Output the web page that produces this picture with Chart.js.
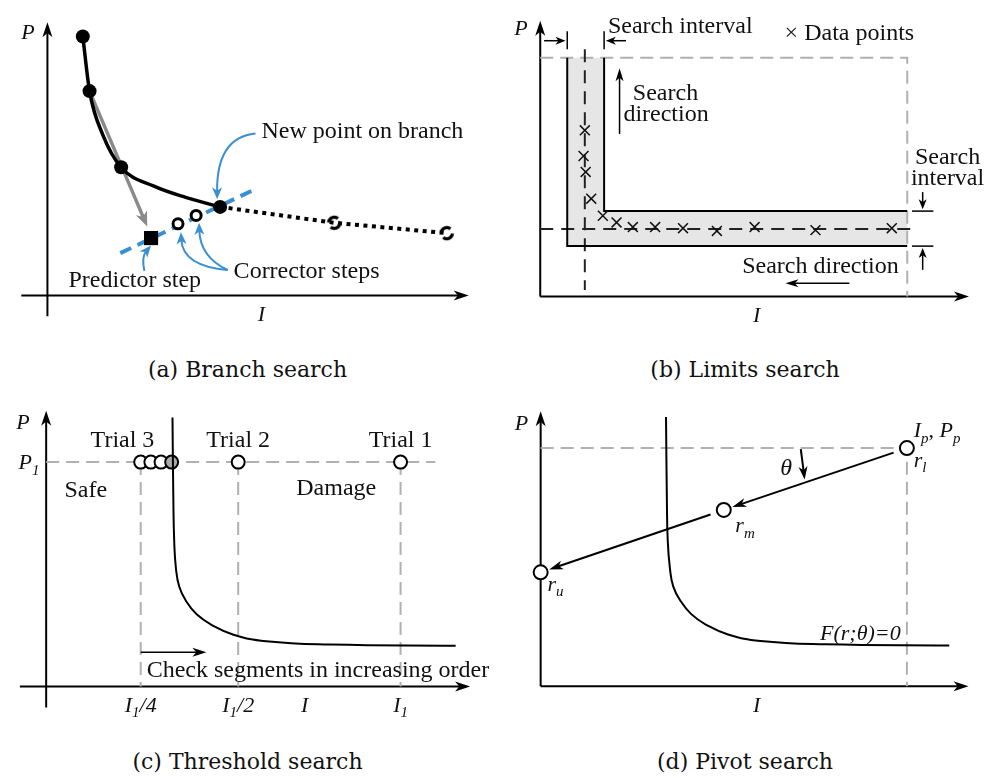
<!DOCTYPE html>
<html>
<head>
<meta charset="utf-8">
<script src="https://cdn.jsdelivr.net/npm/chart.js@4.4.1/dist/chart.umd.min.js"></script>
<style>
  body { margin: 0; background: #fff; width: 991px; height: 778px; position: relative; overflow: hidden; }
  canvas { position: absolute; }
  .cap { position: absolute; font: 22px "DejaVu Serif", serif; line-height: 26px; color: #111; text-align: center; }
</style>
</head>
<body>
<canvas id="panelA"></canvas>
<canvas id="panelB"></canvas>
<canvas id="panelC"></canvas>
<canvas id="panelD"></canvas>
<div class="cap" style="left:0;top:357px;width:495px">(a) Branch search</div>
<div class="cap" style="left:497px;top:357px;width:496px">(b) Limits search</div>
<div class="cap" style="left:0;top:749px;width:495px">(c) Threshold search</div>
<div class="cap" style="left:497px;top:749px;width:496px">(d) Pivot search</div>
<script>
// ---------- (a) Branch search ----------
const branchI    = [0.84, 1.00, 1.32, 1.75, 2.53, 3.28, 4.10];
const branchP    = [9.48, 7.48, 5.86, 4.69, 4.00, 3.59, 3.24];
const solvedI    = [0.84, 1.00, 1.75, 4.10];
const solvedP    = [9.48, 7.48, 4.69, 3.24];
const aheadI     = [4.10, 6.81, 9.48];
const aheadP     = [3.24, 2.66, 2.28];
const unsolvedI  = [6.81, 9.48];
const unsolvedP  = [2.66, 2.28];
const tangentI   = [1.73, 4.99];
const tangentP   = [1.55, 3.93];
const predictorI = [2.46];
const predictorP = [2.10];
const correctorI = [3.10, 3.53];
const correctorP = [2.62, 2.93];

// ---------- (b) Limits search ----------
const samplesI = [1.04, 1.01, 1.06, 1.19, 1.46, 1.78, 2.16, 2.68, 3.33, 4.12, 5.00, 6.42, 8.20];
const samplesP = [6.03, 5.10, 4.52, 3.55, 2.93, 2.69, 2.52, 2.52, 2.48, 2.38, 2.52, 2.41, 2.48];
const limitI   = [1.04];           // limiting impulse
const limitP   = [2.45];           // limiting pressure
const domainI  = [8.56];           // right edge of search domain
const domainP  = [8.66];           // top edge of search domain
const bandI    = [0.63, 1.49];     // vertical search interval
const bandP    = [1.83, 3.10];     // horizontal search interval

// ---------- (c) Threshold search ----------
const thresholdI = [2.98, 3.00, 3.02, 3.06, 3.14, 3.30, 3.55, 3.90, 4.42, 5.19, 6.70, 9.66];
const thresholdP = [9.76, 6.80, 5.30, 4.30, 3.62, 3.10, 2.62, 2.24, 1.88, 1.64, 1.52, 1.48];
const trialP     = [8.14];
const trialI     = [8.36, 4.53, 2.23];   // I1, I1/2, I1/4
const refineI    = [2.23, 2.47, 2.71];
const hitI       = [2.96];
const trialTicks = ['I1', 'I1/2', 'I1/4'];

// ---------- (d) Pivot search ----------
const pivotCurveI = [2.93, 2.95, 2.97, 3.02, 3.10, 3.27, 3.52, 3.86, 4.38, 5.14, 6.64, 9.55];
const pivotCurveP = [9.79, 6.80, 5.30, 4.30, 3.62, 3.10, 2.62, 2.24, 1.88, 1.64, 1.52, 1.48];
const pivotI      = [8.56, 4.28, 0.00];  // r_l, r_m, r_u
const pivotP      = [8.66, 6.41, 4.14];

// ---------- drawing helpers ----------
const FAM  = '"Liberation Serif", "Times New Roman", serif';
const INK  = '#111';
const BLUE = '#3a8fd3';
const GRAY = '#b0b0b0';

const pts = (xs, ys) => xs.map((x, i) => ({ x, y: ys[i] }));

function head(ctx, x, y, ang, len, half, color) {
  ctx.save();
  ctx.translate(x, y);
  ctx.rotate(ang);
  ctx.beginPath();
  ctx.moveTo(0, 0);
  ctx.lineTo(-len, -half);
  ctx.lineTo(-len * 0.72, 0);
  ctx.lineTo(-len, half);
  ctx.closePath();
  ctx.fillStyle = color;
  ctx.fill();
  ctx.restore();
}

function straightArrow(ctx, a, b, color, width, len, half) {
  const ang = Math.atan2(b[1] - a[1], b[0] - a[0]);
  const ex = b[0] - Math.cos(ang) * len * 0.6, ey = b[1] - Math.sin(ang) * len * 0.6;
  ctx.save();
  ctx.strokeStyle = color; ctx.lineWidth = width; ctx.lineCap = 'butt';
  ctx.beginPath(); ctx.moveTo(a[0], a[1]); ctx.lineTo(ex, ey); ctx.stroke();
  ctx.restore();
  if (len) head(ctx, b[0], b[1], ang, len, half, color);
}

function richText(ctx, x, y, parts, align, size, color) {
  const font = fl => (fl.includes('i') ? 'italic ' : '') +
    (fl.includes('s') ? Math.round(size * 0.68) : size) + 'px ' + FAM;
  let w = 0;
  parts.forEach(p => { ctx.font = font(p[1]); w += ctx.measureText(p[0]).width; });
  let cx = align === 'center' ? x - w / 2 : align === 'right' ? x - w : x;
  const base = y + size * 0.33;
  ctx.save();
  ctx.fillStyle = color || INK;
  ctx.textAlign = 'left';
  ctx.textBaseline = 'alphabetic';
  parts.forEach(p => {
    ctx.font = font(p[1]);
    ctx.fillText(p[0], cx, base + (p[1].includes('s') ? size * 0.24 : 0));
    cx += ctx.measureText(p[0]).width;
  });
  ctx.restore();
}

const R  = s => [s, ''];     // upright
const It = s => [s, 'i'];    // italic
const Sb = s => [s, 'is'];   // italic subscript

// overlay: axes, guide ticks, annotation arrows and labels, all placed through the chart scales
function overlay(spec) {
  const toPx = (ch, p) => [ch.scales.x.getPixelForValue(p[0]), ch.scales.y.getPixelForValue(p[1])];
  return {
    id: 'overlay',
    beforeDatasetsDraw(ch) {
      const ctx = ch.ctx;
      const ax = spec.axes;
      straightArrow(ctx, toPx(ch, [ax.x[0], 0]), toPx(ch, [ax.x[1], 0]), '#000', 2, 15, 5);
      straightArrow(ctx, toPx(ch, [0, ax.y[0]]), toPx(ch, [0, ax.y[1]]), '#000', 2, 15, 5);
      (spec.under || []).forEach(a =>
        straightArrow(ctx, toPx(ch, a.from), toPx(ch, a.to), a.color, a.width, a.head[0], a.head[1]));
    },
    afterDatasetsDraw(ch) {
      const ctx = ch.ctx;
      (spec.segs || []).forEach(s => {
        ctx.save();
        ctx.strokeStyle = s.color || '#000'; ctx.lineWidth = s.width || 1.5;
        ctx.beginPath();
        s.pts.forEach((p, i) => { const q = toPx(ch, p); i ? ctx.lineTo(q[0], q[1]) : ctx.moveTo(q[0], q[1]); });
        ctx.stroke();
        ctx.restore();
      });
      (spec.arrows || []).forEach(a => {
        let p = toPx(ch, a.from), q = toPx(ch, a.to);
        if (a.trim) {
          const d = Math.hypot(q[0] - p[0], q[1] - p[1]);
          const ux = (q[0] - p[0]) / d, uy = (q[1] - p[1]) / d;
          p = [p[0] + ux * a.trim[0], p[1] + uy * a.trim[0]];
          q = [q[0] - ux * a.trim[1], q[1] - uy * a.trim[1]];
        }
        straightArrow(ctx, p, q, a.color || '#000', a.width || 1.5, a.head[0], a.head[1]);
      });
      (spec.curves || []).forEach(c => {
        const p = toPx(ch, c.from), k = toPx(ch, c.ctrl), q = toPx(ch, c.to);
        const ang = Math.atan2(q[1] - k[1], q[0] - k[0]);
        const len = c.head[0];
        ctx.save();
        ctx.strokeStyle = c.color; ctx.lineWidth = c.width;
        ctx.beginPath();
        ctx.moveTo(p[0], p[1]);
        ctx.quadraticCurveTo(k[0], k[1], q[0] - Math.cos(ang) * len * 0.6, q[1] - Math.sin(ang) * len * 0.6);
        ctx.stroke();
        ctx.restore();
        head(ctx, q[0], q[1], ang, len, c.head[1], c.color);
      });
      (spec.texts || []).forEach(t => {
        const q = toPx(ch, t.at);
        richText(ctx, q[0], q[1], t.parts, t.align || 'left', t.size || 24, t.color);
      });
    }
  };
}

function makeChart(id, box, frame, datasets, spec) {
  const [L, T, W, H] = box;
  const { ox, oy, ux, uy } = frame;
  const el = document.getElementById(id);
  el.style.left = L + 'px'; el.style.top = T + 'px';
  el.width = W; el.height = H;
  const n = datasets.length;
  return new Chart(el, {
    type: 'scatter',
    data: { datasets: datasets.map((d, i) => Object.assign({ order: n - i, pointRadius: 0, borderWidth: 2 }, d)) },
    options: {
      responsive: false, animation: false, events: [],
      layout: { padding: 0 },
      plugins: { legend: { display: false }, tooltip: { enabled: false } },
      scales: {
        x: { type: 'linear', display: false, min: (L - ox) / ux, max: (L + W - ox) / ux },
        y: { type: 'linear', display: false, min: (oy - T - H) / uy, max: (oy - T) / uy }
      }
    },
    plugins: [overlay(spec)]
  });
}

// broken ring marker for branch points not yet traced
function brokenRing() {
  const c = document.createElement('canvas');
  c.width = c.height = 20;
  const g = c.getContext('2d');
  g.strokeStyle = '#000'; g.lineWidth = 3.4;
  g.beginPath(); g.arc(10, 10, 5.6, Math.PI * 1.02, Math.PI * 1.72); g.stroke();
  g.beginPath(); g.arc(10, 10, 5.6, Math.PI * 0.02, Math.PI * 0.72); g.stroke();
  return c;
}

const line = (data, extra) => Object.assign({ data, showLine: true, fill: false, borderColor: '#000' }, extra);
const marks = (data, extra) => Object.assign({ data, showLine: false }, extra);

// ---------- (a) ----------
makeChart('panelA', [0, 0, 495, 345], { ox: 39, oy: 303, ux: 43.9, uy: 29 }, [
  line(pts(tangentI, tangentP), { borderColor: BLUE, borderWidth: 4, borderDash: [12, 7] }),
  line(pts(aheadI, aheadP), { borderWidth: 4, borderDash: [4, 4.5] }),
  line(pts(branchI, branchP), { borderWidth: 3.5, cubicInterpolationMode: 'monotone' }),
  marks(pts(unsolvedI, unsolvedP), { pointStyle: brokenRing(), pointRadius: 8 }),
  marks(pts(solvedI, solvedP), { pointRadius: 7, pointBackgroundColor: '#000', pointBorderWidth: 0 }),
  marks(pts(predictorI, predictorP), { pointStyle: 'rect', pointRadius: 10, pointBackgroundColor: '#000', pointBorderWidth: 0 }),
  marks(pts(correctorI, correctorP), { pointRadius: 5, pointBackgroundColor: '#fff', pointBorderColor: '#000', pointBorderWidth: 3 })
], {
  axes: { x: [-0.62, 10], y: [-0.76, 10] },
  under: [{ from: [solvedI[1], solvedP[1]], to: [2.37, 2.52], color: '#8a8a8a', width: 3.5, head: [15, 6] }],
  curves: [
    { from: [4.94, 5.93], ctrl: [4.01, 5.79], to: [4.03, 3.52], color: BLUE, width: 2, head: [12, 5] },
    { from: [4.28, 0.93], ctrl: [3.21, 1.07], to: [3.17, 2.31], color: BLUE, width: 2, head: [12, 5] },
    { from: [4.28, 0.93], ctrl: [3.62, 1.41], to: [3.60, 2.66], color: BLUE, width: 2, head: [12, 5] },
    { from: [2.30, 0.90], ctrl: [2.23, 1.41], to: [2.46, 1.83], color: BLUE, width: 2, head: [12, 5] }
  ],
  texts: [
    { at: [5.08, 6.07], parts: [R('New point on branch')] },
    { at: [4.42, 0.93], parts: [R('Corrector steps')] },
    { at: [0.50, 0.59], parts: [R('Predictor step')] },
    { at: [-0.46, 9.66], parts: [It('P')], align: 'center', size: 22 },
    { at: [5.08, -0.66], parts: [It('I')], align: 'center', size: 22 }
  ]
});

// ---------- (b) ----------
const bandShape = [
  [bandI[0], domainP[0]], [bandI[1], domainP[0]], [bandI[1], bandP[1]], [domainI[0], bandP[1]],
  [domainI[0], bandP[0]], [bandI[0], bandP[0]], [bandI[0], domainP[0]]
].map(p => ({ x: p[0], y: p[1] }));

makeChart('panelB', [496, 0, 495, 345], { ox: 533, oy: 303, ux: 44.4, uy: 29 }, [
  line(bandShape, { borderWidth: 0, fill: 'shape', backgroundColor: '#e6e6e6', borderColor: 'rgba(0,0,0,0)' }),
  line(pts([0, domainI[0], domainI[0]], [domainP[0], domainP[0], 0]), { borderColor: GRAY, borderDash: [13, 7] }),
  line(pts([limitI[0], limitI[0]], [8.97, 0.24]), { borderColor: '#222', borderDash: [13, 8] }),
  line(pts([0, 8.65], [limitP[0], limitP[0]]), { borderColor: '#222', borderDash: [13, 8] }),
  line(pts([bandI[0], bandI[0], domainI[0]], [domainP[0], bandP[0], bandP[0]]), {}),
  line(pts([bandI[1], bandI[1], domainI[0]], [domainP[0], bandP[1], bandP[1]]), {}),
  marks(pts(samplesI, samplesP), { pointStyle: 'crossRot', pointRadius: 7, pointBorderColor: '#111', pointBorderWidth: 1.5 })
], {
  axes: { x: [0, 10], y: [0, 10] },
  segs: [
    { pts: [[bandI[0], 8.97], [bandI[0], 9.62]] },
    { pts: [[bandI[1], 8.97], [bandI[1], 9.62]] },
    { pts: [[8.67, bandP[1]], [9.17, bandP[1]]] },
    { pts: [[8.67, bandP[0]], [9.17, bandP[0]]] }
  ],
  arrows: [
    { from: [0.09, 9.28], to: [bandI[0] - 0.04, 9.28], head: [10, 4] },
    { from: [2.00, 9.28], to: [bandI[1] + 0.04, 9.28], head: [10, 4] },
    { from: [1.85, 5.90], to: [1.85, 8.28], head: [13, 4] },
    { from: [8.92, 3.79], to: [8.92, bandP[1] + 0.07], head: [10, 4] },
    { from: [8.92, 0.97], to: [8.92, bandP[0] - 0.07], head: [10, 4] },
    { from: [7.21, 0.48], to: [5.72, 0.48], head: [13, 4] }
  ],
  texts: [
    { at: [1.58, 9.86], parts: [R('Search interval')] },
    { at: [5.70, 9.59], parts: [R('\u00d7 Data points')] },
    { at: [2.16, 7.41], parts: [R('Search')] },
    { at: [1.94, 6.66], parts: [R('direction')] },
    { at: [9.50, 5.10], parts: [R('Search')], align: 'center' },
    { at: [9.50, 4.34], parts: [R('interval')], align: 'center' },
    { at: [4.71, 1.14], parts: [R('Search direction')] },
    { at: [-0.45, 9.76], parts: [It('P')], align: 'center', size: 22 },
    { at: [5.05, -0.66], parts: [It('I')], align: 'center', size: 22 }
  ]
});

// ---------- (c) ----------
const tickParts = {
  'I1':   [It('I'), Sb('1')],
  'I1/2': [It('I'), Sb('1'), It('/2')],
  'I1/4': [It('I'), Sb('1'), It('/4')]
};
makeChart('panelC', [0, 389, 495, 345], { ox: 39, oy: 693, ux: 43.9, uy: 29 }, [
  line(pts([0, 9.18], [trialP[0], trialP[0]]), { borderColor: GRAY, borderDash: [13, 7] }),
  ...trialI.map(v => line(pts([v, v], [trialP[0], 0]), { borderColor: GRAY, borderDash: [13, 7] })),
  marks(pts(trialI.slice(0, 2), [trialP[0], trialP[0]]), { pointRadius: 6.5, pointBackgroundColor: '#fff', pointBorderColor: '#000', pointBorderWidth: 2 }),
  marks(pts(refineI, refineI.map(() => trialP[0])), { pointRadius: 6.5, pointBackgroundColor: '#fff', pointBorderColor: '#000', pointBorderWidth: 2 }),
  marks(pts(hitI, [trialP[0]]), { pointRadius: 6.5, pointBackgroundColor: '#aaa', pointBorderColor: '#000', pointBorderWidth: 2 }),
  line(pts(thresholdI, thresholdP), { borderWidth: 2, tension: 0.45 })
], {
  axes: { x: [-0.62, 10], y: [-0.76, 10] },
  arrows: [{ from: [trialI[2], 1.24], to: [3.78, 1.24], head: [14, 4.5] }],
  texts: [
    { at: [1.80, 8.97], parts: [R('Trial 3')], align: 'center' },
    { at: [trialI[1], 8.97], parts: [R('Trial 2')], align: 'center' },
    { at: [trialI[0], 8.97], parts: [R('Trial 1')], align: 'center' },
    { at: [0.43, 7.17], parts: [R('Safe')] },
    { at: [5.90, 7.24], parts: [R('Damage')] },
    { at: [2.37, 0.62], parts: [R('Check segments in increasing order')] },
    { at: [-0.55, 9.59], parts: [It('P')], align: 'center', size: 22 },
    { at: [-0.16, trialP[0]], parts: [It('P'), Sb('1')], align: 'right', size: 22 },
    { at: [6.10, -0.66], parts: [It('I')], align: 'center', size: 22 },
    ...trialI.map((v, i) => ({ at: [v, -0.66], parts: tickParts[trialTicks[i]], align: 'center', size: 22 }))
  ]
});

// ---------- (d) ----------
makeChart('panelD', [496, 389, 495, 345], { ox: 533, oy: 693, ux: 44.4, uy: 29 }, [
  line(pts([0, pivotI[0], pivotI[0]], [pivotP[0], pivotP[0], 0]), { borderColor: GRAY, borderDash: [13, 7] }),
  line(pts(pivotCurveI, pivotCurveP), { borderWidth: 2, tension: 0.45 }),
  marks(pts(pivotI, pivotP), { pointRadius: 7, pointBackgroundColor: '#fff', pointBorderColor: '#000', pointBorderWidth: 2 })
], {
  axes: { x: [0, 10], y: [0, 10] },
  arrows: [
    { from: [pivotI[0], pivotP[0]], to: [pivotI[1], pivotP[1]], trim: [14, 9], head: [14, 4.5], width: 2 },
    { from: [pivotI[1], pivotP[1]], to: [pivotI[2], pivotP[2]], trim: [14, 9], head: [14, 4.5], width: 2 },
    { from: [6.08, 8.62], to: [6.17, 7.52], head: [13, 4.5], width: 2 }
  ],
  texts: [
    { at: [5.74, 7.97], parts: [It('\u03b8')], align: 'center', size: 24 },
    { at: [8.72, 9.31], parts: [It('I'), Sb('p'), R(', '), It('P'), Sb('p')], size: 22 },
    { at: [8.72, 8.24], parts: [It('r'), Sb('l')], size: 22 },
    { at: [4.55, 5.86], parts: [It('r'), Sb('m')], size: 22 },
    { at: [0.16, 3.72], parts: [It('r'), Sb('u')], size: 22 },
    { at: [6.53, 1.93], parts: [It('F(r;\u03b8)=0')], size: 22 },
    { at: [-0.45, 9.59], parts: [It('P')], align: 'center', size: 22 },
    { at: [5.05, -0.66], parts: [It('I')], align: 'center', size: 22 }
  ]
});
</script>
</body>
</html>
